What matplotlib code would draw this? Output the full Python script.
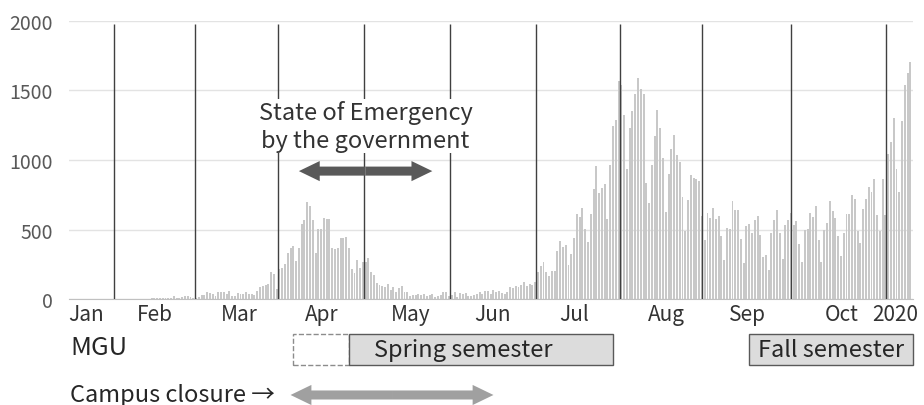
import numpy as np
import pandas as pd
import matplotlib.pyplot as plt

plt.rcParams['font.family'] = ['Noto Sans CJK JP', 'DejaVu Sans']

# Daily new cases in Japan, 16 Jan 2020 - 13 Nov 2020
jan = [1, 0, 0, 0, 0, 0, 0, 1, 1, 1, 0, 2, 1, 3, 2, 3]
feb = [2, 2, 0, 1, 0, 0, 0, 1, 0, 0, 0, 1, 3, 8, 6, 6, 5, 7, 9, 11, 6, 24, 10, 10, 12, 20, 22, 15, 10]
mar = [5, 12, 29, 29, 53, 43, 36, 24, 48, 48, 48, 36, 60, 19, 19, 43, 36, 36, 48, 36,
       36, 31, 60, 89, 96, 101, 108, 192, 180, 72, 216]
apr = [220, 250, 330, 370, 380, 270, 370, 540, 570, 700, 670, 565, 333, 505, 505,
       585, 575, 578, 370, 357, 370, 442, 440, 444, 370, 215, 188, 280, 220, 265]
may = [264, 293, 197, 173, 115, 101, 96, 84, 108, 67, 84, 48, 77, 91, 53, 48, 24, 29, 29, 36,
       29, 36, 24, 29, 36, 12, 24, 31, 53, 48, 24]
jun = [29, 48, 12, 41, 36, 41, 24, 19, 29, 36, 53, 36, 60, 55, 36, 65, 53, 60, 43, 38,
       48, 84, 79, 96, 84, 103, 125, 96, 108, 101]
jul = [120, 192, 240, 264, 192, 168, 204, 199, 348, 415, 372, 389, 245, 324, 437, 612,
       588, 653, 502, 408, 612, 792, 960, 763, 797, 828, 576, 965, 1243, 1291, 1567]
aug = [1536, 1320, 936, 1229, 1349, 1476, 1589, 1512, 1471, 833, 689, 965, 1176, 1356, 1231,
       1014, 625, 901, 1082, 1183, 1038, 986, 733, 486, 714, 889, 870, 865, 846, 596, 421]
sep = [618, 584, 654, 577, 596, 450, 284, 510, 505, 704, 637, 637, 433, 260, 524, 539, 474,
       570, 596, 462, 303, 317, 209, 476, 570, 637, 474, 288, 529, 565]
oct_ = [620, 534, 560, 397, 269, 493, 505, 620, 589, 668, 428, 269, 493, 548, 702, 630, 582,
        452, 313, 476, 613, 608, 745, 716, 486, 401, 649, 721, 805, 769, 865]
nov = [601, 486, 865, 606, 1046, 1130, 1303, 938, 769, 1279, 1539, 1623, 1707]

cases = np.array(jan + feb + mar + apr + may + jun + jul + aug + sep + oct_ + nov)
start = pd.Timestamp('2020-01-16')


def day(s):
    return (pd.Timestamp(s) - start).days


# month separators and month labels (in day positions)
sep_lines = [15.5, 44.6, 74.5, 105.4, 136.3, 167.2, 197.7, 227.0, 259.0, 293.2]
month_pos = [5.6, 30.2, 60.4, 90.3, 122.1, 151.6, 181.1, 214.3, 243.5, 277.2, 296.4]
month_lab = ['Jan', 'Feb', 'Mar', 'Apr', 'May', 'Jun', 'Jul', 'Aug', 'Sep', 'Oct', '2020']

emergency = (day('2020-04-07'), day('2020-05-25'))
campus = (day('2020-04-04'), day('2020-06-16'))
spring_plan = (day('2020-04-05'), day('2020-04-25'))
spring = (day('2020-04-25'), day('2020-07-29'))
fall_start = day('2020-09-16')

fig = plt.figure(figsize=(9.24, 4.06), dpi=100)
ax = fig.add_axes([0.075, 0.261, 0.913, 0.685])

x = np.arange(len(cases))
ax.bar(x, cases, width=0.7, color='#c8c8c8', zorder=2)
ax.set_xlim(-0.6, 302.9)
ax.set_ylim(0, 2000)
ax.set_yticks([0, 500, 1000, 1500, 2000])
ax.grid(axis='y', color='#e3e3e3', lw=1, zorder=0)
for s in ['top', 'right', 'left']:
    ax.spines[s].set_visible(False)
ax.spines['bottom'].set_color('#c0c0c0')
ax.set_xticks(month_pos)
ax.set_xticklabels(month_lab)
ax.tick_params(axis='y', length=0, pad=12, labelsize=14, labelcolor='#595959')
ax.tick_params(axis='x', length=0, pad=3, labelsize=15, labelcolor='#333333')

ax.vlines(sep_lines, 0, 1980, color='#404040', lw=1, zorder=3)

# State of emergency
ax.text(sum(emergency) / 2, 1245, 'State of Emergency\nby the government', ha='center', va='center',
        fontsize=17, color='#333333', linespacing=1.25, zorder=4,
        bbox=dict(facecolor='white', edgecolor='none', pad=1))
mid = sum(emergency) / 2
for end in emergency:
    ax.annotate('', xy=(end, 920), xytext=(mid, 920),
                arrowprops=dict(arrowstyle='simple,head_length=1.5,head_width=1.45,tail_width=0.65',
                                mutation_scale=10, color='#595959', lw=0, shrinkA=0, shrinkB=0),
                zorder=5)

# semesters
ax.add_patch(plt.Rectangle((spring_plan[0], -475), spring_plan[1] - spring_plan[0], 223,
                           facecolor='white', edgecolor='#8c8c8c', ls='--', lw=1, clip_on=False))
ax.add_patch(plt.Rectangle((spring[0], -475), spring[1] - spring[0], 223,
                           facecolor='#dcdcdc', edgecolor='#595959', lw=1, clip_on=False))
ax.add_patch(plt.Rectangle((fall_start, -475), 302.9 - fall_start, 223,
                           facecolor='#dcdcdc', edgecolor='#595959', lw=1, clip_on=False))
ax.text(spring[0] + 9, -363, 'Spring semester', ha='left', va='center', fontsize=17, color='#262626')
ax.text((fall_start + 302.9) / 2, -363, 'Fall semester', ha='center', va='center', fontsize=17,
        color='#262626')

# campus closure
mid = sum(campus) / 2
for end in campus:
    ax.annotate('', xy=(end, -690), xytext=(mid, -690), annotation_clip=False,
                arrowprops=dict(arrowstyle='simple,head_length=1.5,head_width=1.45,tail_width=0.65',
                                mutation_scale=10, color='#a0a0a0', lw=0, shrinkA=0, shrinkB=0))

fig.text(70 / 924, 1 - 348 / 406, 'MGU', ha='left', va='center', fontsize=18.5, color='#262626')
fig.text(70 / 924, 1 - 396 / 406, 'Campus closure →', ha='left', va='center', fontsize=17,
         color='#262626')

fig.savefig('out.png', dpi=100)
